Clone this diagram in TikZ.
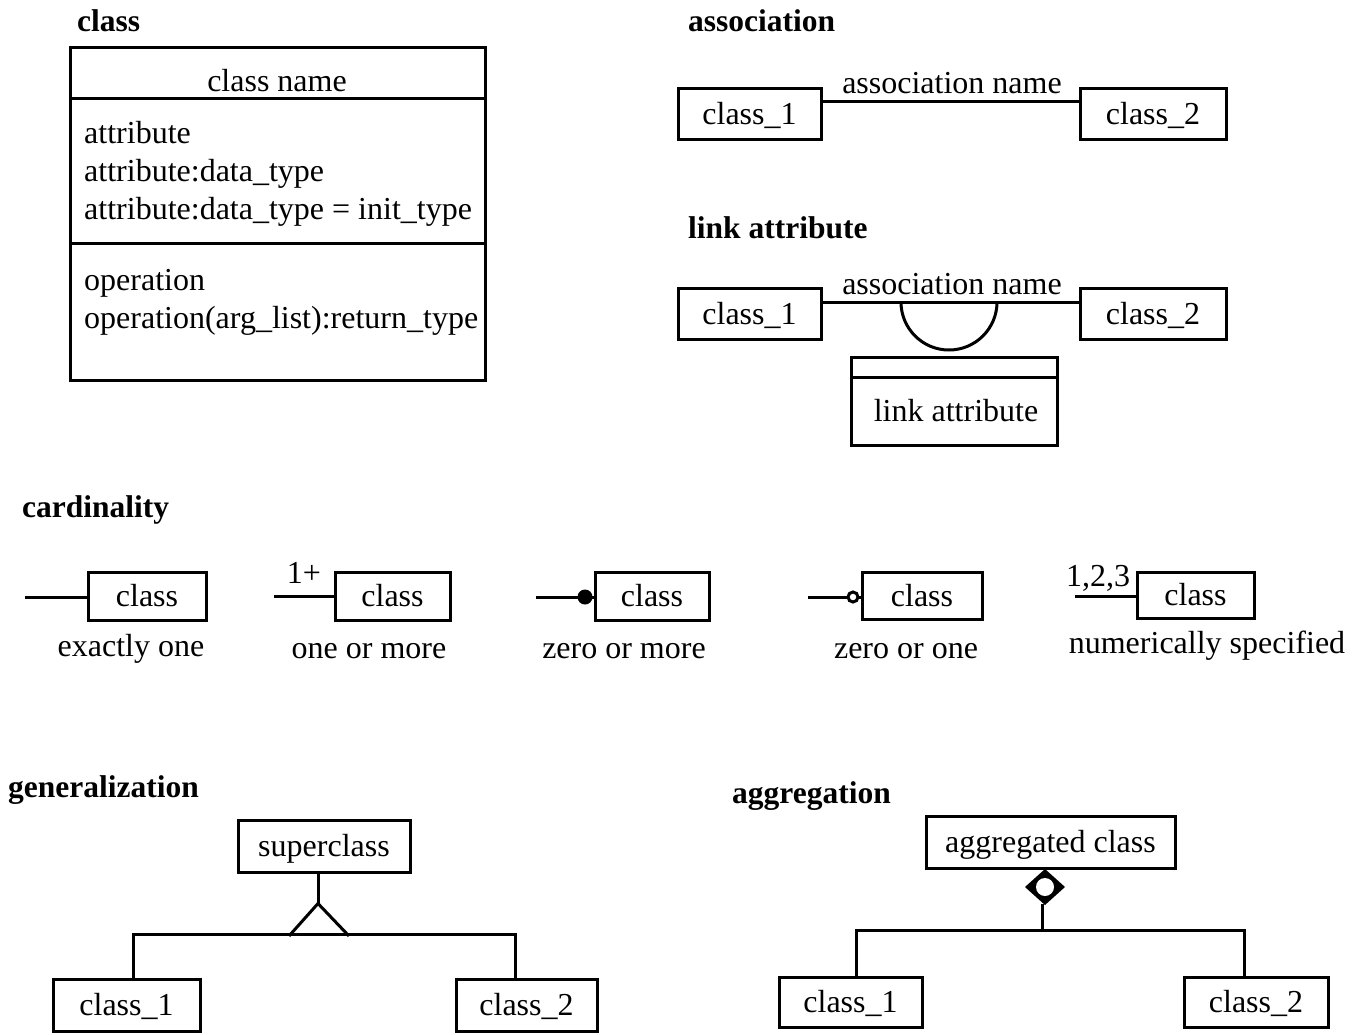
\documentclass[tikz,border=0pt]{standalone}
\usepackage{fontspec}
\setmainfont{Liberation Serif}
\usetikzlibrary{calc}
\begin{document}
\begin{tikzpicture}[x=1pt,y=-1pt,
  txt/.style={inner sep=0pt,font=\fontsize{32}{38}\selectfont},
  ttl/.style={inner sep=0pt,anchor=base west,font=\fontsize{31.5}{38}\selectfont\bfseries},
  box/.style={draw,line width=3pt,inner sep=0pt,text depth=0.1em,font=\fontsize{32}{38}\selectfont},
  ln/.style={line width=3pt}]
\useasboundingbox (0,0) rectangle (1363,1034);

% ---- class ----
\node[ttl] (tclass) at (77,31) {class};
\node[draw,line width=3pt,minimum width=415,minimum height=333,inner sep=0pt] (cbox) at (277.5,213.5) {};
\draw[ln] (70,98) -- (485,98);
\draw[ln] (70,243) -- (485,243);
\node[txt,anchor=base] (cname) at (277,91) {class name};
\node[txt,anchor=base west] (at1) at (84,143) {attribute};
\node[txt,anchor=base west] (at2) at (84,181) {attribute:data\_type};
\node[txt,anchor=base west] (at3) at (84,219) {attribute:data\_type = init\_type};
\node[txt,anchor=base west] (op1) at (84,290) {operation};
\node[txt,anchor=base west] (op2) at (84,328) {operation(arg\_list):return\_type};

% ---- association ----
\node[ttl] (tassoc) at (688,31) {association};
\node[box,minimum width=143,minimum height=51] (a1) at (749.5,113.5) {class\_1};
\node[box,minimum width=146,minimum height=51] (a2) at (1153,113.5) {class\_2};
\draw[ln] ([yshift=12.5pt]a1.east) -- ([yshift=12.5pt]a2.west);
\node[txt,anchor=base] (aname) at (952,93) {association name};

% ---- link attribute ----
\node[ttl] (tlink) at (688,238) {link attribute};
\node[box,minimum width=143,minimum height=51] (l1) at (749.5,313.5) {class\_1};
\node[box,minimum width=146,minimum height=51] (l2) at (1153,313.5) {class\_2};
\draw[ln] ([yshift=11.5pt]l1.east) -- ([yshift=11.5pt]l2.west);
\node[txt,anchor=base] (lname) at (952,294) {association name};
\draw[ln] (901,302) arc[start angle=180,end angle=0,radius=48];
\node[box,minimum width=206,minimum height=88] (lbox) at (954,401) {};
\draw[ln] (851,377) -- (1057,377);
\node[txt,anchor=base] (ltext) at (956,421) {link attribute};

% ---- cardinality ----
\node[ttl] (tcard) at (22,517) {cardinality};
\node[box,minimum width=118,minimum height=48] (k1) at (147,596) {class};
\coordinate (e1) at (25,597);
\draw[ln] (e1) -- (e1 -| k1.west);
\node[txt,anchor=base] (k1l) at (131,656) {exactly one};

\node[box,minimum width=115,minimum height=48] (k2) at (392.5,596) {class};
\coordinate (e2) at (274,596);
\draw[ln] (e2) -- (e2 -| k2.west);
\node[txt,anchor=base] (k2n) at (304,583) {1+};
\node[txt,anchor=base] (k2l) at (369,658) {one or more};

\node[box,minimum width=114,minimum height=48] (k3) at (652,596) {class};
\coordinate (e3) at (536,597);
\draw[ln] (e3) -- (e3 -| k3.west);
\fill (585,597) circle (7.5);
\node[txt,anchor=base] (k3l) at (624,658) {zero or more};

\node[box,minimum width=120,minimum height=47] (k4) at (922,595.5) {class};
\coordinate (e4) at (808,597);
\draw[ln] (e4) -- (e4 -| k4.west);
\draw[line width=3pt,fill=white] (853,597) circle (5);
\node[txt,anchor=base] (k4l) at (906,658) {zero or one};

\node[box,minimum width=117,minimum height=46] (k5) at (1195.5,595) {class};
\coordinate (e5) at (1075,596);
\draw[ln] (e5) -- (e5 -| k5.west);
\node[txt,anchor=base] (k5n) at (1098,586) {1,2,3};
\node[txt,anchor=base] (k5l) at (1207,653) {numerically specified};

% ---- generalization ----
\node[ttl] (tgen) at (8,797) {generalization};
\node[box,minimum width=172,minimum height=52] (sup) at (324,846) {superclass};
\node[box,minimum width=147,minimum height=52] (g1) at (126.5,1005) {class\_1};
\node[box,minimum width=141,minimum height=52] (g2) at (526.5,1005) {class\_2};
\draw[ln] ([xshift=-6pt]sup.south) -- ++(0,30) coordinate (apex);
\draw[ln,line join=miter] (289,936) -- (apex) -- (349,936);
\draw[ln] ([xshift=6.5pt]g1.north) -- ++(0,-43) -| ([xshift=-11.5pt]g2.north);

% ---- aggregation ----
\node[ttl] (tagg) at (732,803) {aggregation};
\node[box,minimum width=249,minimum height=52] (agg) at (1050.5,842) {aggregated class};
\node[box,minimum width=143,minimum height=50] (b1) at (850.5,1002) {class\_1};
\node[box,minimum width=144,minimum height=50] (b2) at (1256,1002) {class\_2};
\fill (1045,869) -- (1065,887) -- (1045,905) -- (1025,887) -- cycle;
\fill[white] (1045,887) circle (9);
\draw[ln] (1042,904) -- (1042,932);
\draw[ln] ([xshift=5.5pt]b1.north) -- ++(0,-45) -| ([xshift=-12pt]b2.north);
\end{tikzpicture}
\end{document}
